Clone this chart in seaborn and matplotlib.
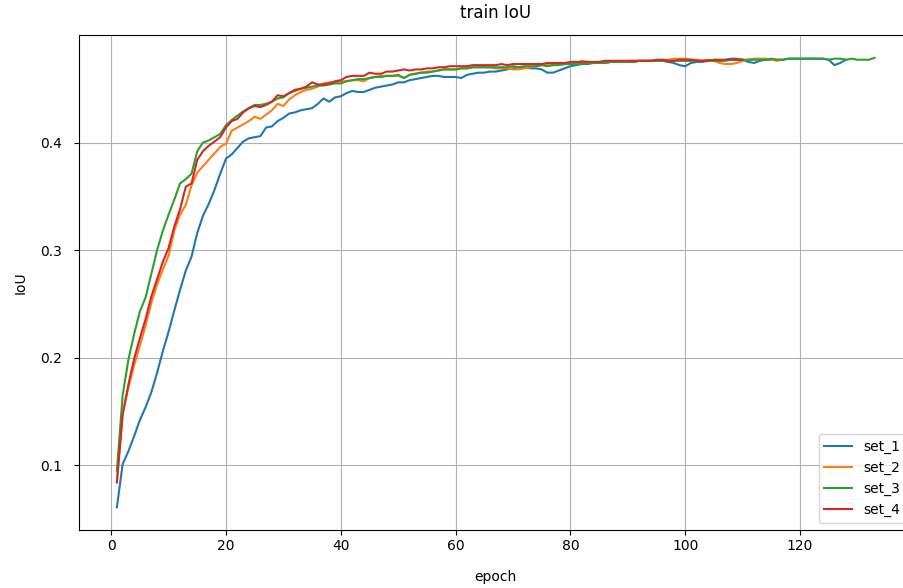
import pandas as pd
import numpy as np
import matplotlib

matplotlib.use("Agg")
import matplotlib.pyplot as plt
import seaborn as sns

# train IoU per epoch
set_1 = [0.061, 0.101, 0.113, 0.127, 0.142, 0.154, 0.168, 0.186, 0.206, 0.224,
         0.244, 0.263, 0.281, 0.294, 0.316, 0.332, 0.343, 0.356, 0.371, 0.385,
         0.389, 0.395, 0.401, 0.404, 0.405, 0.406, 0.414, 0.415, 0.420, 0.423,
         0.427, 0.428, 0.430, 0.431, 0.432, 0.436, 0.441, 0.438, 0.442, 0.443,
         0.446, 0.448, 0.447, 0.447, 0.449, 0.451, 0.452, 0.453, 0.454, 0.456,
         0.456, 0.458, 0.459, 0.460, 0.461, 0.462, 0.462, 0.461, 0.461, 0.461,
         0.460, 0.463, 0.464, 0.465, 0.465, 0.466, 0.466, 0.467, 0.468, 0.469,
         0.470, 0.470, 0.469, 0.469, 0.468, 0.465, 0.465, 0.467, 0.469, 0.471,
         0.472, 0.473, 0.473, 0.474, 0.474, 0.474, 0.475, 0.475, 0.475, 0.475,
         0.475, 0.476, 0.476, 0.476, 0.476, 0.476, 0.475, 0.474, 0.472, 0.471,
         0.474, 0.475, 0.475, 0.476, 0.476, 0.476, 0.477, 0.478, 0.478, 0.477,
         0.475, 0.474, 0.476, 0.477, 0.477, 0.477, 0.477, 0.478, 0.478, 0.478,
         0.478, 0.478, 0.478, 0.478, 0.477, 0.472, 0.474, 0.477]

set_2 = [0.085, 0.148, 0.172, 0.193, 0.211, 0.230, 0.251, 0.268, 0.282, 0.295,
         0.318, 0.333, 0.342, 0.360, 0.372, 0.378, 0.384, 0.390, 0.396, 0.399,
         0.411, 0.414, 0.417, 0.420, 0.424, 0.422, 0.426, 0.430, 0.436, 0.434,
         0.440, 0.444, 0.447, 0.449, 0.450, 0.452, 0.455, 0.456, 0.456, 0.457,
         0.457, 0.458, 0.458, 0.457, 0.460, 0.461, 0.462, 0.462, 0.462, 0.462,
         0.460, 0.463, 0.464, 0.465, 0.466, 0.466, 0.467, 0.468, 0.468, 0.468,
         0.469, 0.469, 0.470, 0.470, 0.470, 0.470, 0.469, 0.469, 0.469, 0.468,
         0.468, 0.469, 0.470, 0.471, 0.472, 0.472, 0.472, 0.473, 0.473, 0.473,
         0.474, 0.476, 0.475, 0.474, 0.474, 0.474, 0.475, 0.475, 0.475, 0.476,
         0.476, 0.476, 0.476, 0.476, 0.476, 0.477, 0.477, 0.478, 0.478, 0.478,
         0.477, 0.477, 0.476, 0.476, 0.476, 0.474, 0.473, 0.473, 0.474, 0.476,
         0.477, 0.478, 0.478, 0.478, 0.477, 0.476, 0.477]

set_3 = [0.095, 0.165, 0.198, 0.222, 0.243, 0.256, 0.278, 0.300, 0.318, 0.333,
         0.347, 0.362, 0.366, 0.371, 0.392, 0.400, 0.402, 0.405, 0.408, 0.416,
         0.421, 0.425, 0.429, 0.432, 0.435, 0.435, 0.436, 0.438, 0.441, 0.442,
         0.446, 0.448, 0.450, 0.451, 0.452, 0.453, 0.453, 0.454, 0.455, 0.455,
         0.457, 0.458, 0.459, 0.459, 0.460, 0.461, 0.461, 0.462, 0.462, 0.463,
         0.460, 0.463, 0.464, 0.465, 0.465, 0.466, 0.467, 0.468, 0.468, 0.468,
         0.469, 0.469, 0.470, 0.470, 0.470, 0.470, 0.470, 0.470, 0.470, 0.471,
         0.470, 0.471, 0.471, 0.471, 0.472, 0.471, 0.472, 0.472, 0.473, 0.473,
         0.473, 0.473, 0.474, 0.474, 0.474, 0.474, 0.475, 0.475, 0.475, 0.475,
         0.475, 0.476, 0.476, 0.476, 0.476, 0.476, 0.476, 0.476, 0.476, 0.476,
         0.476, 0.476, 0.476, 0.477, 0.476, 0.476, 0.476, 0.477, 0.477, 0.477,
         0.477, 0.477, 0.477, 0.477, 0.478, 0.477, 0.477, 0.478, 0.478, 0.478,
         0.478, 0.478, 0.478, 0.478, 0.477, 0.478, 0.478, 0.477, 0.478, 0.477,
         0.477, 0.477, 0.4788]

set_4 = [0.084, 0.147, 0.175, 0.199, 0.218, 0.236, 0.257, 0.273, 0.289, 0.302,
         0.322, 0.338, 0.359, 0.362, 0.384, 0.392, 0.397, 0.401, 0.405, 0.414,
         0.420, 0.422, 0.428, 0.432, 0.434, 0.433, 0.435, 0.438, 0.444, 0.443,
         0.446, 0.449, 0.450, 0.452, 0.456, 0.454, 0.454, 0.455, 0.457, 0.458,
         0.461, 0.462, 0.462, 0.462, 0.465, 0.464, 0.464, 0.466, 0.466, 0.467,
         0.468, 0.467, 0.468, 0.468, 0.469, 0.469, 0.470, 0.470, 0.471, 0.471,
         0.471, 0.471, 0.472, 0.472, 0.472, 0.472, 0.472, 0.473, 0.472, 0.473,
         0.473, 0.473, 0.473, 0.473, 0.473, 0.474, 0.474, 0.474, 0.474, 0.475,
         0.475, 0.475, 0.475, 0.475, 0.475, 0.476, 0.476, 0.476, 0.476, 0.476,
         0.476, 0.476, 0.476, 0.476, 0.477, 0.477, 0.476, 0.476, 0.477, 0.477,
         0.477, 0.476, 0.476, 0.476, 0.477, 0.477, 0.477, 0.477, 0.477, 0.477]

set_names = ["set_1", "set_2", "set_3", "set_4"]
series = [set_1, set_2, set_3, set_4]

frames = []
for name, values in zip(set_names, series):
    frames.append(
        pd.DataFrame(
            {"epoch": np.arange(1, len(values) + 1), "IoU": values, "set": name}
        )
    )
df = pd.concat(frames, ignore_index=True)

fig = plt.figure(figsize=(9.04, 5.88), dpi=100)
# the reference is cropped on the right, so the axes run past the figure edge
ax = fig.add_axes([0.0874, 0.0991, 0.922, 0.8408])
sns.lineplot(
    data=df,
    x="epoch",
    y="IoU",
    hue="set",
    hue_order=set_names,
    palette=sns.color_palette("tab10", 4),
    estimator=None,
    ax=ax,
)
ax.grid(True)
ax.tick_params(axis="y", pad=9)
ax.set_title("train IoU", pad=12.5)
ax.set_xlabel("epoch", labelpad=12)
ax.set_ylabel("IoU", labelpad=9)
ax.legend(loc="lower right")

fig.savefig("out.png", dpi=100)
